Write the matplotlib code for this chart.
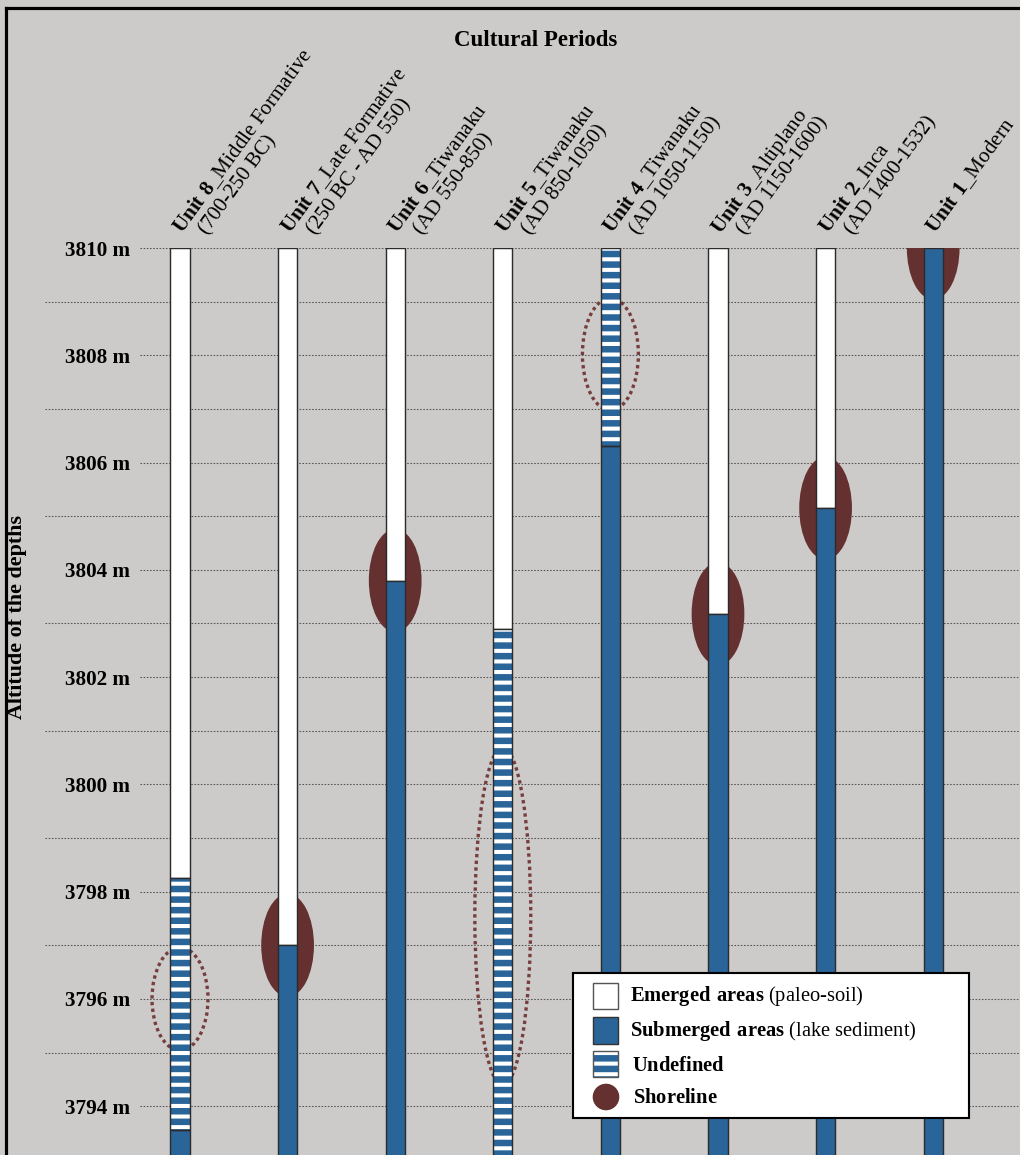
import matplotlib
matplotlib.use("Agg")
import matplotlib.pyplot as plt
from matplotlib.patches import Ellipse, Rectangle, Circle
from matplotlib.lines import Line2D
from matplotlib.transforms import Affine2D, offset_copy

plt.rcParams['font.family'] = ['Liberation Serif', 'DejaVu Serif']
plt.rcParams['mathtext.fontset'] = 'custom'
plt.rcParams['mathtext.rm'] = 'Liberation Serif'
plt.rcParams['mathtext.bf'] = 'Liberation Serif:bold'
plt.rcParams['hatch.color'] = 'white'
plt.rcParams['hatch.linewidth'] = 2.3

# units, left to right
units = ["8", "7", "6", "5", "4", "3", "2", "1"]
names = ["Middle Formative", "Late Formative", "Tiwanaku", "Tiwanaku",
         "Tiwanaku", "Altiplano", "Inca", "Modern"]
periods = ["(700-250 BC)", "(250 BC - AD 550)", "(AD 550-850)", "(AD 850-1050)",
           "(AD 1050-1150)", "(AD 1150-1600)", "(AD 1400-1532)", ""]

top_alt = 3810.0
col_bottom = 3790.0
# emerged (white) from top down to emerged_base, undefined down to undefined_base, submerged below
emerged_base = [3798.25, 3797.0, 3803.8, 3802.9, 3810.0, 3803.18, 3805.15, 3810.0]
undefined_base = [3793.55, 3797.0, 3803.8, 3790.0, 3806.3, 3803.18, 3805.15, 3810.0]

# shorelines
shore_idx = [1, 2, 5, 6, 7]
shore_alt = [3797.0, 3803.8, 3803.18, 3805.15, 3810.0]

# uncertain shoreline (dotted)
unc_idx = [0, 3, 4]
unc_center = [3796.0, 3797.54, 3808.02]
unc_height = [1.92, 6.29, 2.09]

legend_labels = [r"$\bf{Emerged\ areas}$ (paleo-soil)",
                 r"$\bf{Submerged\ areas}$ (lake sediment)",
                 r"$\bf{Undefined}$",
                 r"$\bf{Shoreline}$"]

blue = '#2a6599'
maroon = '#643030'
dotc = '#763e3e'
bg = '#cccbc9'
edge = '#2b2b2b'

DPI = 127
W, H = 1020, 1155
fig = plt.figure(figsize=(W / DPI, H / DPI), dpi=DPI, facecolor=bg)
# pixel coords measured from the top-left corner
pix = Affine2D().scale(1 / W, -1 / H).translate(0, 1) + fig.transFigure

ax = fig.add_axes([140 / W, 0, 880 / W, 907 / H])
ax.set_facecolor('none')
for s in ax.spines.values():
    s.set_visible(False)

ax.set_xlim(-0.3717, 7.8067)
ax.set_ylim(3793.09, 3810)
ax.set_xticks([])
even = list(range(3794, 3811, 2))
ax.set_yticks(even)
ax.set_yticklabels([f"{v} m" for v in even], fontweight='bold', fontsize=12)
ax.tick_params(axis='y', length=0, pad=5.7)
ax.yaxis.grid(True, linestyle=(0, (1.5, 1.5)), color='#555555', lw=0.6)
ax.set_axisbelow(True)
odd = list(range(3795, 3810, 2))
ax.hlines(odd, -95 / 880, 1, transform=ax.get_yaxis_transform(), clip_on=False,
          linestyle=(0, (1.5, 1.5)), color='#555555', lw=0.6, zorder=0.5)

w = 0.177
x = list(range(len(units)))

# shorelines behind bars
for i, a in zip(shore_idx, shore_alt):
    ax.add_patch(Ellipse((x[i], a), 0.49, 1.92, fc=maroon, ec='none', zorder=1))
for i, c, h in zip(unc_idx, unc_center, unc_height):
    ax.add_patch(Ellipse((x[i], c), 0.52, h, fc='none', ec=dotc, lw=1.9,
                         linestyle=(0, (1, 1)), zorder=1))

for i in x:
    eb = emerged_base[i]
    ub = undefined_base[i]
    if eb < top_alt:
        ax.bar(x[i], top_alt - eb, bottom=eb, width=w, color='white',
               edgecolor=edge, lw=0.8, zorder=2)
    if ub < eb:
        ax.bar(x[i], eb - ub, bottom=ub, width=w, color=blue, hatch='--', zorder=2)
        ax.bar(x[i], eb - ub, bottom=ub, width=w, fill=False,
               edgecolor=edge, lw=0.8, zorder=2.1)
    if ub > col_bottom:
        ax.bar(x[i], ub - col_bottom, bottom=col_bottom, width=w, color=blue,
               edgecolor=edge, lw=0.8, zorder=2)

# column labels (two lines each)
for i in x:
    t1 = offset_copy(ax.transData, fig=fig, x=2, y=13.5, units='dots')
    ax.text(x[i], top_alt, r"$\bf{Unit\ " + units[i] + "}$_" + names[i],
            transform=t1, rotation=54, rotation_mode='anchor', ha='left',
            va='baseline', fontsize=12, clip_on=False)
    if periods[i]:
        t2 = offset_copy(ax.transData, fig=fig, x=27.5, y=12.5, units='dots')
        ax.text(x[i], top_alt, periods[i], transform=t2, rotation=54,
                rotation_mode='anchor', ha='left', va='baseline',
                fontsize=12, clip_on=False)

fig.text(536 / W, 1 - 40 / H, "Cultural Periods", ha='center', va='center',
         fontsize=13, fontweight='bold')
fig.text(17 / W, 1 - 617 / H, "Altitude of the depths", ha='center', va='center',
         rotation=90, fontsize=12.5, fontweight='bold')

# legend box
fig.add_artist(Rectangle((572.5, 972.5), 396, 145, transform=pix, fc='white',
                         ec='black', lw=1.2, zorder=5))
fig.add_artist(Rectangle((592.5, 983), 25, 26, transform=pix, fc='white',
                         ec='#555555', lw=0.8, zorder=6))
fig.add_artist(Rectangle((592.5, 1017), 25, 26.5, transform=pix, fc=blue,
                         ec='#333333', lw=0.8, zorder=6))
fig.add_artist(Rectangle((592.5, 1050.5), 25, 26.5, transform=pix, fc=blue,
                         hatch='--', zorder=6))
fig.add_artist(Rectangle((592.5, 1050.5), 25, 26.5, transform=pix, fill=False,
                         ec='#555555', lw=0.8, zorder=6.1))
fig.add_artist(Circle((606, 1097), 13.3, transform=pix, fc=maroon, ec='none', zorder=6))
for lab, tx, ty in zip(legend_labels, [630.5, 630, 631.5, 633],
                       [1000.7, 1035.7, 1070.7, 1102.7]):
    t = fig.text(tx / W, 1 - ty / H, lab, ha='left', va='baseline', fontsize=11.6)
    t.set_zorder(7)

# outer frame
fig.add_artist(Line2D([6 / W, 6 / W], [0, 1 - 8 / H], color='black', lw=1.8))
fig.add_artist(Line2D([6 / W, 1], [1 - 8 / H, 1 - 8 / H], color='black', lw=1.8))

fig.savefig("out.png", dpi=DPI, facecolor=bg)
